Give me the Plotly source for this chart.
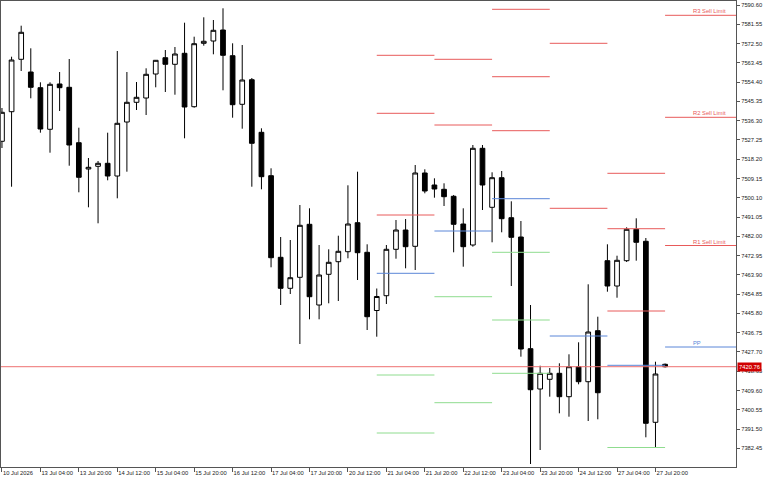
import plotly.graph_objects as go

# ---- data (4H bars, 10 Jul 2026 12:00 .. 28 Jul 2026 00:00) ----
opens = [7526.60, 7540.50, 7565.10, 7559.14, 7551.77, 7532.24, 7553.51, 7551.96, 7525.94, 7513.59,
         7514.86, 7516.27, 7510.31, 7535.66, 7544.91, 7546.93, 7558.20, 7565.85, 7562.76, 7567.92,
         7542.85, 7572.62, 7573.70, 7578.86, 7566.79, 7543.97, 7555.52, 7530.83, 7510.45, 7472.13,
         7457.58, 7462.74, 7487.63, 7449.73, 7464.15, 7470.07, 7474.76, 7488.38, 7474.48, 7447.15,
         7454.10, 7475.89, 7484.95, 7477.30, 7511.72, 7506.08, 7504.06, 7500.78, 7487.77, 7477.91,
         7523.31, 7495.61, 7509.51, 7490.73, 7481.66, 7429.22, 7410.29, 7414.85, 7417.66, 7406.68,
         7420.76, 7413.72, 7437.67, 7470.54, 7458.66, 7470.54, 7485.28, 7479.65, 7394.66, 7421.89]
highs = [7542.24, 7566.32, 7580.88, 7570.27, 7554.30, 7554.30, 7559.14, 7565.24, 7532.99, 7518.76,
         7517.35, 7530.64, 7569.00, 7559.14, 7554.44, 7560.88, 7564.77, 7569.47, 7570.88, 7582.29,
         7575.72, 7584.82, 7583.56, 7589.05, 7572.62, 7571.82, 7556.32, 7532.70, 7513.92, 7481.66,
         7480.26, 7496.69, 7495.14, 7477.91, 7475.89, 7482.27, 7505.94, 7512.33, 7478.24, 7457.48,
         7477.91, 7489.65, 7490.12, 7515.47, 7513.45, 7509.23, 7506.88, 7501.39, 7495.14, 7524.86,
         7524.86, 7512.04, 7512.65, 7498.43, 7489.18, 7449.73, 7421.23, 7420.15, 7422.36, 7426.59,
         7432.22, 7459.45, 7444.24, 7478.24, 7472.88, 7486.22, 7490.44, 7481.19, 7423.11, 7422.27]
lows = [7523.45, 7505.28, 7559.61, 7546.79, 7530.64, 7521.25, 7540.83, 7515.14, 7502.65, 7495.61,
        7488.10, 7508.29, 7499.84, 7512.33, 7541.30, 7538.95, 7551.96, 7549.75, 7548.48, 7528.01,
        7542.38, 7571.49, 7567.45, 7550.55, 7537.68, 7532.52, 7505.28, 7504.06, 7467.44, 7449.73,
        7454.90, 7431.42, 7443.02, 7443.02, 7450.53, 7451.61, 7471.66, 7461.47, 7438.00, 7434.85,
        7450.20, 7471.48, 7466.97, 7466.17, 7502.18, 7500.12, 7496.22, 7474.48, 7467.72, 7477.11,
        7494.34, 7479.18, 7483.87, 7458.66, 7425.46, 7375.08, 7381.65, 7406.68, 7398.88, 7397.29,
        7412.50, 7395.27, 7396.07, 7455.98, 7453.16, 7469.93, 7470.54, 7387.61, 7382.73, 7420.39]
closes = [7540.22, 7564.77, 7577.78, 7551.96, 7532.38, 7553.36, 7551.77, 7524.86, 7509.70, 7514.39,
          7516.27, 7510.31, 7535.05, 7544.91, 7547.26, 7558.06, 7564.63, 7562.76, 7567.59, 7542.71,
          7572.43, 7573.56, 7578.72, 7566.98, 7543.79, 7555.38, 7525.66, 7509.98, 7471.94, 7457.58,
          7462.55, 7487.16, 7453.63, 7463.82, 7469.78, 7474.95, 7487.77, 7474.29, 7444.24, 7453.73,
          7475.89, 7484.95, 7477.11, 7511.72, 7503.26, 7504.20, 7500.59, 7487.63, 7477.11, 7523.31,
          7506.08, 7509.51, 7490.26, 7481.52, 7429.07, 7409.96, 7417.66, 7417.66, 7406.68, 7420.76,
          7413.72, 7437.06, 7408.55, 7458.66, 7470.72, 7485.28, 7479.18, 7394.19, 7417.34, 7420.76]

x_tick_labels = ["10 Jul 2026", "13 Jul 04:00", "13 Jul 20:00", "14 Jul 12:00", "15 Jul 04:00",
                 "15 Jul 20:00", "16 Jul 12:00", "17 Jul 04:00", "17 Jul 20:00", "20 Jul 12:00",
                 "21 Jul 04:00", "21 Jul 20:00", "22 Jul 12:00", "23 Jul 04:00", "23 Jul 20:00",
                 "24 Jul 12:00", "27 Jul 04:00", "27 Jul 20:00"]
x_tick_step = 4

y_tick_start = 7382.45
y_tick_step = 9.05
y_tick_count = 24

current_price = 7420.76

# daily pivot levels (day start bar index: 21,22,23,24,27,28 Jul)
pivot_day_start = [39, 45, 51, 57, 63, 69]
bars_per_day = 6
R3 = [7566.98, None, 7588.58, None, 7511.57, 7585.76]
R2 = [7539.75, 7565.10, 7556.93, 7572.62, 7485.56, 7537.87]
R1 = [7491.99, 7534.25, 7531.58, 7495.14, 7446.92, 7477.67]
PP = [7464.62, 7484.48, 7499.65, 7435.18, 7421.42, 7430.01]
S1 = [7416.87, 7453.63, 7474.48, None, 7382.82, None]
S2 = [7389.63, 7403.86, 7442.69, None, None, None]
S3 = [None, None, 7417.66, None, None, None]
last_labels = {"R3": "R3 Sell Limit", "R2": "R2 Sell Limit", "R1": "R1 Sell Limit", "PP": "PP"}

# ---- layout constants ----
X_MIN, X_MAX = -0.10, 76.38
Y_MIN, Y_MAX = 7373.67, 7592.48
RED = "#e85a5a"
BLUE = "#5a86d8"
GREEN = "#8fdc8f"
FONT = "Liberation Sans"
FS = 5.8

idx = list(range(len(opens)))

fig = go.Figure()

# current price line
fig.add_trace(go.Scatter(x=[X_MIN, X_MAX], y=[current_price, current_price], mode="lines",
                         line=dict(color="#ee7070", width=1), hoverinfo="skip", showlegend=False))

# pivot segments
def seg_trace(levels, color):
    xs, ys = [], []
    for s, v in zip(pivot_day_start, levels):
        if v is None:
            continue
        e = s + bars_per_day
        if s == pivot_day_start[-1]:
            e = X_MAX
        xs += [s, e, None]
        ys += [v, v, None]
    return go.Scatter(x=xs, y=ys, mode="lines", line=dict(color=color, width=1),
                      hoverinfo="skip", showlegend=False)

for lv, col in [(R3, RED), (R2, RED), (R1, RED), (PP, BLUE), (S1, GREEN), (S2, GREEN), (S3, GREEN)]:
    fig.add_trace(seg_trace(lv, col))

fig.add_trace(go.Candlestick(
    x=idx, open=opens, high=highs, low=lows, close=closes,
    increasing=dict(fillcolor="white", line=dict(color="#000000", width=1)),
    decreasing=dict(fillcolor="#000000", line=dict(color="#000000", width=1)),
    whiskerwidth=0, showlegend=False, hoverinfo="skip"))

# labels on the latest pivot segment
label_x = pivot_day_start[-1] + 2.85
for key, lv, col in [("R3", R3, RED), ("R2", R2, RED), ("R1", R1, RED), ("PP", PP, BLUE)]:
    fig.add_annotation(x=label_x, y=lv[-1], text=last_labels[key], showarrow=False,
                       xanchor="left", yanchor="bottom", font=dict(family=FONT, size=FS, color=col),
                       borderpad=0, yshift=0)

# current price tag
fig.add_annotation(xref="paper", x=1, y=current_price, text=f"{current_price:.2f}", showarrow=False,
                   xanchor="left", yanchor="middle", xshift=1, bgcolor="#d00000",
                   font=dict(family=FONT, size=FS, color="white"), borderpad=1)

y_ticks = [round(y_tick_start + i * y_tick_step, 2) for i in range(y_tick_count)]

fig.update_layout(
    width=768, height=480,
    margin=dict(l=1, r=32, t=1, b=13, autoexpand=False),
    paper_bgcolor="white", plot_bgcolor="white",
    xaxis=dict(range=[X_MIN, X_MAX], showgrid=False, zeroline=False, rangeslider=dict(visible=False),
               tickvals=[i * x_tick_step for i in range(len(x_tick_labels))], ticktext=x_tick_labels,
               ticks="outside", ticklen=4, tickcolor="#555", ticklabelposition="outside right",
               tickangle=0, automargin=False,
               tickfont=dict(family=FONT, size=FS, color="#222"),
               showline=True, mirror=True, linecolor="#555", linewidth=1),
    yaxis=dict(range=[Y_MIN, Y_MAX], side="right", showgrid=False, zeroline=False,
               tickvals=y_ticks, ticktext=[f"{v:.2f}" for v in y_ticks],
               ticks="outside", ticklen=3, tickcolor="#555", automargin=False,
               tickfont=dict(family=FONT, size=FS, color="#222"),
               showline=True, mirror=True, linecolor="#555", linewidth=1),
    hovermode=False,
)

fig.write_html("out.html", config={"displayModeBar": False},
               post_script="document.body.style.margin='0';document.body.style.padding='0';")
